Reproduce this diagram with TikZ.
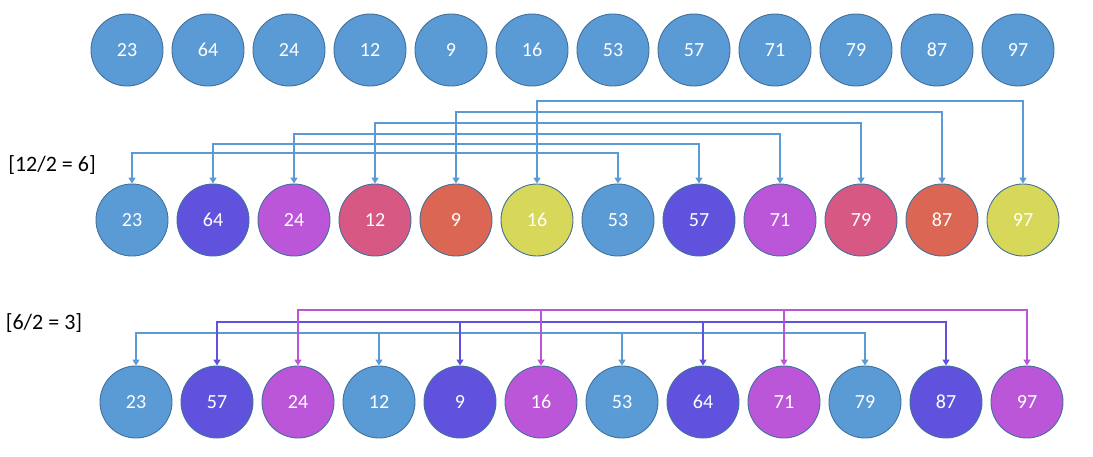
\documentclass[tikz,border=0pt]{standalone}
\usepackage{fontspec}
\setmainfont{Carlito}
\usetikzlibrary{arrows.meta}
\definecolor{cblue}{HTML}{5B9BD5}
\definecolor{cpurple}{HTML}{6152DE}
\definecolor{cmag}{HTML}{BB56D8}
\definecolor{cpink}{HTML}{D65883}
\definecolor{corange}{HTML}{DA6653}
\definecolor{cyellow}{HTML}{D7D75A}
\definecolor{cedge}{HTML}{41719C}
\tikzset{
  ball/.style={circle, draw=cedge, line width=0.9pt, minimum size=72pt, inner sep=0pt,
    text=white, font=\fontsize{20}{24}\selectfont},
  conn/.style={line width=2pt, -{Triangle[width=7pt,length=6pt]}},
  bconn/.style={line width=2pt, {Triangle[width=7pt,length=6pt]}-{Triangle[width=7pt,length=6pt]}},
  lbl/.style={font=\fontsize{22}{26}\selectfont, text=black, inner sep=0pt}
}
\begin{document}
\begin{tikzpicture}[x=1pt,y=-1pt]
\useasboundingbox (0,0) rectangle (1093,456);
% row 1
\foreach \v [count=\i] in {23,64,24,12,9,16,53,57,71,79,87,97}{
  \node[ball, fill=cblue] (r1-\i) at ({127+81*(\i-1)},50) {\v};
}
% row 2
\foreach \v/\c [count=\i] in {23/cblue,64/cpurple,24/cmag,12/cpink,9/corange,16/cyellow,53/cblue,57/cpurple,71/cmag,79/cpink,87/corange,97/cyellow}{
  \node[ball, fill=\c] (r2-\i) at ({132+81*(\i-1)},220) {\v};
}
% row 3
\foreach \v/\c [count=\i] in {23/cblue,57/cpurple,24/cmag,12/cblue,9/cpurple,16/cmag,53/cblue,64/cpurple,71/cmag,79/cblue,87/cpurple,97/cmag}{
  \node[ball, fill=\c] (r3-\i) at ({136+81*(\i-1)},402) {\v};
}
\node[lbl] (l1) at (52,165) {[12/2 = 6]};
\node[lbl] (l2) at (44,323) {[6/2 = 3]};
% row 2 connectors
\foreach \a/\b/\h in {1/7/153,2/8/144,3/9/134,4/10/123,5/11/112,6/12/101}{
  \draw[bconn, cblue] (r2-\a.north) -- (r2-\a.north |- 0,\h) -| (r2-\b.north);
}
% row 3 connectors
\draw[bconn, cblue] (r3-1.north) -- (r3-1.north |- 0,333) -| (r3-10.north);
\draw[conn, cblue] (r3-4.north |- 0,333) -- (r3-4.north);
\draw[conn, cblue] (r3-7.north |- 0,333) -- (r3-7.north);
\draw[bconn, cpurple] (r3-2.north) -- (r3-2.north |- 0,322) -| (r3-11.north);
\draw[conn, cpurple] (r3-5.north |- 0,322) -- (r3-5.north);
\draw[conn, cpurple] (r3-8.north |- 0,322) -- (r3-8.north);
\draw[bconn, cmag] (r3-3.north) -- (r3-3.north |- 0,310) -| (r3-12.north);
\draw[conn, cmag] (r3-6.north |- 0,310) -- (r3-6.north);
\draw[conn, cmag] (r3-9.north |- 0,310) -- (r3-9.north);
\end{tikzpicture}
\end{document}
